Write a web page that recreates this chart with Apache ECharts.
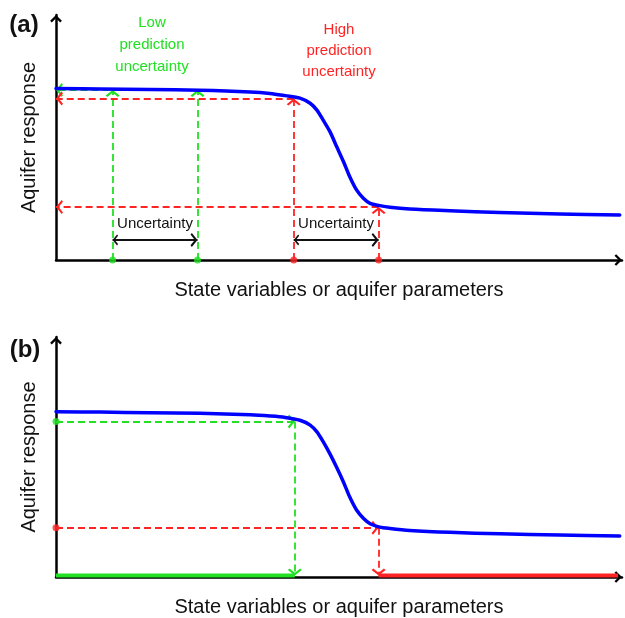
<!DOCTYPE html>
<html><head><meta charset="utf-8">
<script src="https://cdn.jsdelivr.net/npm/echarts@6/dist/echarts.min.js"></script>
<style>html,body{margin:0;padding:0;background:#fff}#c{width:625px;height:618px}</style>
</head><body><div id="c"></div>
<script>
// ---- data (conceptual units: x 0..10, y 0..10) ----
const curveX  = [0,0.78,1.66,2.54,3.43,3.78,4.05,4.31,4.49,4.61,4.72,4.84,4.96,5.08,5.19,5.31,5.43,5.55,5.72,5.90,6.25,6.96,7.84,8.90,9.96];
const curveAY = [7.0,6.98,6.96,6.93,6.86,6.80,6.71,6.61,6.40,6.12,5.71,5.24,4.62,4.01,3.40,2.86,2.52,2.31,2.22,2.15,2.08,2.01,1.94,1.88,1.84];
const curveBY = [6.89,6.87,6.84,6.82,6.76,6.71,6.65,6.53,6.33,6.05,5.64,5.13,4.56,3.95,3.33,2.79,2.45,2.22,2.08,2.02,1.94,1.86,1.80,1.75,1.71];
const lowParamsA = [1.0, 2.5];      // low-uncertainty parameter range (a)
const lowRespA = 6.94;              // corresponding response (a)
const highParamsA = [4.2, 5.7];     // high-uncertainty parameter range (a)
const highRespA = [6.59, 2.16];     // corresponding responses (a)
const uncertArrowY = 0.82;
const respB = [6.48, 2.05];         // response values (b): green, red
const paramB = [4.22, 5.7];         // resulting parameters (b)
const paramEndB = 9.93;
const baseB = 0.06;
const xName = 'State variables or aquifer parameters';
const yName = 'Aquifer response';

const GREEN = '#22e022', RED = '#ff2424', BLUE = '#0000ff', BLACK = '#111';
const FONT = '"Liberation Sans", Arial, sans-serif';
const chev = 'path://M5,0 L10,5 L8.8,6.2 L5,2.4 L1.2,6.2 L0,5 Z M5,-6.2 L5,-6.2 Z';
const axArrow = 'path://M5,0 L10,5 L8.6,6.4 L5,2.8 L1.4,6.4 L0,5 Z M5,-6.4 L5,-6.4 Z';

function zip(a, b) { return a.map((v, i) => [v, b[i]]); }
function axisX(g) {
  return { type: 'value', gridIndex: g, min: 0, max: 10,
    axisLine: { show: true, symbol: ['none', axArrow], symbolSize: [12, 15], lineStyle: { color: '#000', width: 2.5 } },
    axisTick: { show: false }, axisLabel: { show: false }, splitLine: { show: false },
    name: xName, nameLocation: 'middle', nameGap: 20,
    nameTextStyle: { fontSize: 20, fontFamily: FONT, color: '#111' } };
}
function axisY(g) {
  return { type: 'value', gridIndex: g, min: 0, max: 10,
    axisLine: { show: true, symbol: ['none', axArrow], symbolSize: [12, 15], lineStyle: { color: '#000', width: 2.5 } },
    axisTick: { show: false }, axisLabel: { show: false }, splitLine: { show: false },
    name: yName, nameLocation: 'middle', nameGap: 17,
    nameTextStyle: { fontSize: 20, fontFamily: FONT, color: '#111' } };
}
function dashed(g, color, segs, sym) {
  return { type: 'lines', coordinateSystem: 'cartesian2d', xAxisIndex: g, yAxisIndex: g,
    symbol: sym, symbolSize: [11, 14], z: 4,
    lineStyle: { color: color, width: 1.8, type: [7, 4], opacity: 1 },
    data: segs.map(s => ({ coords: s })) };
}
function dots(g, color, pts) {
  return { type: 'scatter', xAxisIndex: g, yAxisIndex: g, clip: false, symbolSize: 7, z: 6,
    itemStyle: { color: color }, data: pts };
}
function bar(g, color, pts) {
  return { type: 'line', xAxisIndex: g, yAxisIndex: g, showSymbol: false, symbol: 'none', clip: false, z: 3,
    lineStyle: { color: color, width: 4 }, data: pts };
}
function curve(g, xs, ys) {
  return { type: 'line', xAxisIndex: g, yAxisIndex: g, data: zip(xs, ys), symbol: 'none', smooth: 0.3, z: 5,
    lineStyle: { color: BLUE, width: 3.5, cap: 'round', join: 'round' } };
}

const option = {
  animation: false,
  backgroundColor: '#fff',
  grid: [
    { left: 56, top: 15, width: 566, height: 245 },
    { left: 56, top: 337, width: 566, height: 245 }
  ],
  xAxis: [axisX(0), axisX(1)],
  yAxis: [axisY(0), axisY(1)],
  series: [
    curve(0, curveX, curveAY),
    dashed(0, GREEN, [
      [[lowParamsA[0], 0], [lowParamsA[0], lowRespA]],
      [[lowParamsA[1], 0], [lowParamsA[1], lowRespA]],
      [[lowParamsA[1], lowRespA], [0, lowRespA]]
    ], ['none', chev]),
    dashed(0, RED, [
      [[highParamsA[0], 0], [highParamsA[0], highRespA[0]]],
      [[highParamsA[1], 0], [highParamsA[1], highRespA[1]]],
      [[highParamsA[0], highRespA[0]], [0, highRespA[0]]],
      [[highParamsA[1], highRespA[1]], [0, highRespA[1]]]
    ], ['none', chev]),
    { type: 'lines', coordinateSystem: 'cartesian2d', xAxisIndex: 0, yAxisIndex: 0, symbol: [chev, chev], symbolSize: [11, 14], z: 4,
      lineStyle: { color: BLACK, width: 1.8, opacity: 1 },
      data: [
        { coords: [[lowParamsA[0], uncertArrowY], [lowParamsA[1], uncertArrowY]] },
        { coords: [[highParamsA[0], uncertArrowY], [highParamsA[1], uncertArrowY]] }
      ] },
    dots(0, GREEN, lowParamsA.map(v => [v, 0])),
    dots(0, RED, highParamsA.map(v => [v, 0])),

    curve(1, curveX, curveBY),
    dashed(1, GREEN, [
      [[0, respB[0]], [paramB[0], respB[0]]],
      [[paramB[0], respB[0]], [paramB[0], baseB]]
    ], ['none', chev]),
    dashed(1, RED, [
      [[0, respB[1]], [paramB[1], respB[1]]],
      [[paramB[1], respB[1]], [paramB[1], baseB]]
    ], ['none', chev]),
    bar(1, GREEN, [[0, baseB], [paramB[0], baseB]]),
    bar(1, RED, [[paramB[1], baseB], [paramEndB, baseB]]),
    dots(1, GREEN, [[0, respB[0]]]),
    dots(1, RED, [[0, respB[1]]])
  ],
  graphic: [
    { type: 'text', x: 24, y: 25, style: { text: '(a)', fill: '#111', font: 'bold 24px ' + FONT, textAlign: 'center', textVerticalAlign: 'middle' } },
    { type: 'text', x: 25, y: 350, style: { text: '(b)', fill: '#111', font: 'bold 24px ' + FONT, textAlign: 'center', textVerticalAlign: 'middle' } },
    { type: 'text', x: 152, y: 45, style: { text: 'Low\nprediction\nuncertainty', fill: GREEN, font: '15px ' + FONT, lineHeight: 22, textAlign: 'center', textVerticalAlign: 'middle' } },
    { type: 'text', x: 339, y: 51, style: { text: 'High\nprediction\nuncertainty', fill: RED, font: '15px ' + FONT, lineHeight: 21, textAlign: 'center', textVerticalAlign: 'middle' } },
    { type: 'text', x: 155, y: 224, style: { text: 'Uncertainty', fill: BLACK, font: '15px ' + FONT, textAlign: 'center', textVerticalAlign: 'middle' } },
    { type: 'text', x: 336, y: 224, style: { text: 'Uncertainty', fill: BLACK, font: '15px ' + FONT, textAlign: 'center', textVerticalAlign: 'middle' } }
  ]
};
const chart = echarts.init(document.getElementById('c'), null, { renderer: 'canvas' });
chart.setOption(option);
</script>
</body></html>
